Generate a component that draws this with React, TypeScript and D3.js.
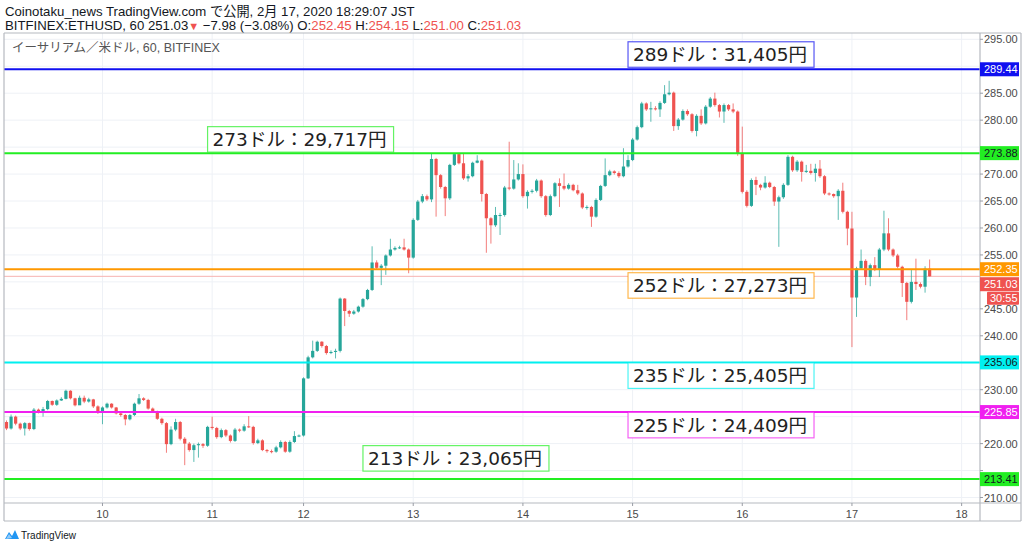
import * as d3 from 'd3';

// ETH/USD hourly candles, Bitfinex, Feb 9 - Feb 17 2020 (JST). Each bar opens at the previous close.
const firstOpen = 224.0;
const closes = [
  222.8, 225.0, 223.7, 222.8, 223.8, 222.7, 226.3, 226.0, 226.4, 227.9,
  227.2, 228.0, 228.3, 229.8, 228.4, 227.1, 228.5, 227.8, 228.2, 226.9,
  225.7, 226.7, 227.4, 226.7, 225.6, 225.3, 224.5, 225.3, 227.4, 228.4,
  228.1, 226.5, 226.0, 224.6, 223.8, 219.9, 222.6, 224.0, 220.9, 220.0,
  218.8, 219.7, 219.9, 219.6, 223.1, 222.9, 221.2, 222.5, 221.5, 220.5,
  222.6, 222.4, 223.2, 223.1, 220.1, 220.6, 218.8, 218.6, 218.5, 219.3,
  220.3, 218.5, 220.3, 221.4, 221.5, 232.1, 236.0, 237.2, 238.9, 238.1,
  236.8, 237.0, 237.2, 246.9, 244.6, 244.1, 244.5, 245.4, 246.8, 248.5,
  253.6, 252.6, 253.0, 254.9, 256.0, 256.3, 256.4, 256.0, 254.5, 261.5,
  264.9, 265.9, 265.3, 272.8, 269.8, 267.6, 265.5, 271.7, 273.7, 272.0,
  269.2, 269.6, 272.1, 272.5, 266.3, 261.8, 260.5, 262.4, 262.4, 267.5,
  267.3, 269.0, 270.0, 265.9, 266.7, 266.9, 268.8, 265.9, 262.4, 265.9,
  268.3, 267.8, 267.3, 268.0, 267.0, 266.4, 263.8, 263.9, 262.1, 265.2,
  267.8, 269.8, 270.5, 270.2, 269.6, 271.4, 272.6, 276.4, 278.7, 283.1,
  282.0, 282.2, 282.0, 283.2, 284.8, 285.1, 278.9, 280.1, 281.7, 281.1,
  278.0, 280.8, 279.4, 282.5, 284.0, 282.8, 281.6, 282.8, 282.0, 281.6,
  273.8, 266.7, 264.1, 268.9, 268.0, 267.5, 268.4, 267.6, 264.9, 265.7,
  268.0, 273.2, 270.7, 272.3, 270.4, 270.6, 270.2, 271.0, 269.6, 266.4,
  266.3, 265.9, 266.9, 263.0, 259.9, 247.1, 252.5, 253.9, 250.9, 253.1,
  252.3, 256.0, 259.0, 256.0, 254.9, 252.8, 249.8, 246.3, 250.0, 249.6,
  249.1, 252.45, 251.03,
];
const highs = [
  224.3, 225.4, 225.2, 223.9, 224.0, 223.9, 226.6, 226.5, 226.8, 228.1,
  228.0, 228.2, 228.6, 230.0, 229.9, 228.5, 228.9, 228.9, 228.5, 228.3,
  227.1, 226.9, 227.6, 227.5, 226.8, 225.8, 225.5, 225.5, 227.6, 229.2,
  228.6, 228.3, 226.7, 226.1, 224.8, 224.0, 223.2, 224.6, 224.2, 221.2,
  220.3, 220.0, 220.2, 220.1, 223.3, 225.0, 223.1, 222.8, 222.7, 221.7,
  222.9, 222.8, 223.6, 225.1, 223.3, 220.9, 220.8, 219.0, 218.9, 219.6,
  220.6, 220.5, 220.6, 222.3, 221.7, 232.3, 236.3, 239.1, 239.1, 239.0,
  238.3, 237.3, 237.6, 247.1, 247.0, 244.8, 244.8, 245.6, 247.0, 248.7,
  256.6, 254.0, 253.3, 255.1, 258.0, 256.6, 256.7, 258.0, 256.2, 261.8,
  265.2, 266.3, 266.2, 273.8, 273.0, 270.0, 267.8, 271.9, 273.9, 273.9,
  273.8, 270.0, 272.3, 273.5, 272.7, 266.5, 262.0, 263.9, 262.8, 267.8,
  276.0, 272.6, 272.0, 271.8, 267.0, 267.2, 269.1, 269.0, 266.1, 266.2,
  268.5, 269.2, 270.1, 268.3, 268.2, 268.0, 266.6, 264.2, 264.1, 265.5,
  268.0, 272.9, 270.8, 270.7, 270.5, 274.8, 273.5, 276.7, 279.0, 283.4,
  283.3, 283.4, 282.6, 283.5, 286.5, 287.3, 285.3, 280.4, 282.0, 282.0,
  281.3, 281.1, 282.0, 282.8, 284.3, 285.1, 283.0, 283.1, 283.0, 283.1,
  281.8, 278.8, 267.0, 269.2, 269.5, 268.2, 269.6, 268.6, 267.8, 266.0,
  268.3, 273.5, 273.4, 272.6, 272.5, 271.7, 271.9, 271.9, 272.6, 269.8,
  266.6, 266.4, 267.2, 268.4, 263.2, 263.0, 252.8, 256.0, 254.2, 253.4,
  254.6, 256.3, 263.2, 261.8, 256.2, 255.2, 253.0, 250.0, 252.2, 254.3,
  249.9, 252.9, 254.15,
];
const lows = [
  222.5, 222.6, 223.4, 222.5, 221.5, 222.4, 222.5, 225.6, 225.0, 226.2,
  227.0, 227.0, 227.9, 228.2, 228.2, 226.9, 227.2, 227.5, 227.6, 226.6,
  225.5, 223.6, 226.5, 226.5, 225.4, 225.0, 223.4, 224.3, 225.1, 227.2,
  227.9, 226.3, 225.8, 224.4, 223.5, 218.3, 219.7, 222.3, 220.6, 216.0,
  218.5, 216.6, 217.4, 219.2, 219.4, 222.6, 220.9, 221.0, 221.2, 220.2,
  220.3, 222.1, 222.2, 222.9, 219.8, 219.9, 218.6, 218.3, 218.2, 218.3,
  219.1, 218.3, 218.3, 220.1, 221.2, 221.3, 232.0, 235.8, 237.0, 237.8,
  236.5, 236.6, 235.8, 236.9, 241.8, 243.5, 243.9, 244.3, 245.2, 246.6,
  248.3, 252.3, 249.4, 251.3, 254.7, 255.8, 256.1, 255.8, 251.6, 254.3,
  261.3, 264.6, 265.0, 264.8, 262.1, 267.3, 262.2, 265.2, 271.5, 271.8,
  268.9, 268.6, 269.4, 272.0, 264.9, 255.4, 257.1, 260.2, 258.7, 262.1,
  267.0, 267.1, 268.8, 265.6, 263.6, 266.4, 266.6, 265.6, 262.1, 262.2,
  265.7, 263.9, 267.0, 267.1, 266.8, 266.1, 263.5, 263.4, 260.2, 261.9,
  265.0, 267.6, 269.6, 269.9, 269.3, 269.4, 271.2, 272.4, 276.2, 278.5,
  281.7, 279.7, 281.8, 280.6, 283.0, 284.6, 278.0, 278.2, 279.9, 280.8,
  277.7, 277.0, 279.1, 279.2, 282.3, 282.5, 280.5, 279.5, 281.7, 281.3,
  273.4, 266.4, 263.8, 263.9, 266.1, 267.0, 267.3, 267.4, 264.1, 256.5,
  265.4, 267.8, 270.4, 270.4, 268.6, 270.2, 269.9, 268.6, 269.3, 266.1,
  266.0, 265.6, 261.5, 262.7, 256.8, 237.9, 243.5, 252.3, 249.4, 249.2,
  252.0, 250.9, 255.7, 255.7, 254.6, 252.5, 247.2, 242.9, 246.0, 248.5,
  248.8, 248.0, 251.0,
];

// day boundaries (bar index of 00:00 JST) and their labels
const dayTickBars = [21, 45, 65, 89, 113, 137, 161, 185, 209];
const dayTickLabels = ['10', '11', '12', '13', '14', '15', '16', '17', '18'];

// horizontal levels drawn by the author
const levelPrices = [289.44, 273.88, 252.35, 235.06, 225.85, 213.41];
const levelNotes = ['289ドル：31,405円', '273ドル：29,717円', '252ドル：27,273円', '235ドル：25,405円', '225ドル：24,409円', '213ドル：23,065円'];

const lastPrice = 251.03;
const countdown = '30:55';

// styling / layout for the level lines and their notes
const levelStyle = [
  { color: '#1010f0', text: '#ffffff', noteBar: 136, dy: -27.5 },
  { color: '#22ee22', text: '#131722', noteBar: 44, dy: -26.5 },
  { color: '#ff9800', text: '#ffffff', noteBar: 136, dy: 3.5 },
  { color: '#00f0f0', text: '#131722', noteBar: 136, dy: 0.5 },
  { color: '#f020f0', text: '#ffffff', noteBar: 136, dy: 0.3 },
  { color: '#22ee22', text: '#131722', noteBar: 78, dy: -33.5 },
];

const UP = '#26a69a';
const DOWN = '#ef5350';
const FONT = '"Liberation Sans", "Noto Sans CJK JP", sans-serif';
const NOTE_FONT = '"DejaVu Sans", "Noto Sans CJK JP", sans-serif';

const plotLeft = 4;
const plotTop = 33;
const axisX = 980;
const axisY = 503;
const frameRight = 1021;
const frameBottom = 521;

export default function App() {
  const x = d3.scaleLinear().domain([0, 202]).range([6.5, 6.5 + 4.57 * 202]);
  const y = d3.scaleLinear().domain([210, 295]).range([497.5, 39.3]);
  const priceTicks = y.ticks(17);
  const candles = closes.map((c, i) => ({
    i,
    o: i === 0 ? firstOpen : closes[i - 1],
    h: highs[i],
    l: lows[i],
    c,
  }));
  const bodyW = 3.2;

  // last-price badge is pushed below the orange badge, like TradingView does
  const lastY = Math.max(y(lastPrice), y(levelPrices[2]) + 15);
  const badgeYs = [...levelPrices.map((p) => y(p)), lastY, lastY + 13.5];
  const freeTicks = priceTicks.filter((p) => badgeYs.every((b) => Math.abs(b - y(p)) > 11));

  return (
    <div style={{ position: 'absolute', left: 0, top: 0 }}>
      <svg width={1024} height={552} style={{ display: 'block', background: '#fff' }} fontFamily={FONT}>
        <defs>
          <clipPath id="plot">
            <rect x={plotLeft} y={plotTop} width={axisX - plotLeft} height={axisY - plotTop} />
          </clipPath>
        </defs>

        {/* header */}
        <text x={5} y={16} fontSize={13.2} fill="#131722">
          Coinotaku_news TradingView.com で公開, 2月 17, 2020 18:29:07 JST
        </text>
        <text x={5} y={29.5} fontSize={13.2} fill="#131722">
          BITFINEX:ETHUSD, 60 251.03
          <tspan fill={DOWN} fontSize={11}>▼</tspan>
          <tspan> −7.98 (−3.08%) O:</tspan>
          <tspan fill={DOWN}>252.45</tspan>
          <tspan> H:</tspan>
          <tspan fill={DOWN}>254.15</tspan>
          <tspan> L:</tspan>
          <tspan fill={DOWN}>251.00</tspan>
          <tspan> C:</tspan>
          <tspan fill={DOWN}>251.03</tspan>
        </text>

        {/* grid */}
        <g stroke="#eef1f6" strokeWidth={1}>
          {dayTickBars.map((b) => (
            <line key={b} x1={x(b)} x2={x(b)} y1={plotTop} y2={axisY} />
          ))}
          {priceTicks.map((p) => (
            <line key={p} x1={plotLeft} x2={axisX} y1={y(p)} y2={y(p)} />
          ))}
        </g>

        <text x={12} y={52} fontSize={12.5} fill="#555">
          イーサリアム／米ドル, 60, BITFINEX
        </text>

        {/* last price line */}
        <line x1={plotLeft} x2={axisX} y1={y(lastPrice)} y2={y(lastPrice)} stroke="#f7b2b0" strokeWidth={1} />

        {/* candles */}
        <g clipPath="url(#plot)">
          {candles.map((d) => {
            const col = d.c >= d.o ? UP : DOWN;
            const top = y(Math.max(d.o, d.c));
            const bot = y(Math.min(d.o, d.c));
            return (
              <g key={d.i}>
                <line x1={x(d.i)} x2={x(d.i)} y1={y(d.h)} y2={y(d.l)} stroke={col} strokeWidth={1} strokeOpacity={0.75} />
                <rect x={x(d.i) - bodyW / 2} y={top} width={bodyW} height={Math.max(1, bot - top)} fill={col} />
              </g>
            );
          })}
        </g>

        {/* level lines */}
        {levelPrices.map((p, k) => (
          <line key={p} x1={plotLeft} x2={axisX} y1={y(p)} y2={y(p)} stroke={levelStyle[k].color} strokeWidth={2} />
        ))}

        {/* level notes */}
        {levelPrices.map((p, k) => {
          const s = levelStyle[k];
          const bx = x(s.noteBar);
          const by = y(p) + s.dy;
          return (
            <g key={'n' + p}>
              <rect x={bx} y={by} width={186} height={25.5} fill="#fff" stroke={s.color} strokeOpacity={0.7} strokeWidth={1.2} />
              <text x={bx + 5} y={by + 19.5} fontSize={18.5} fontFamily={NOTE_FONT} fill="#222">
                {levelNotes[k]}
              </text>
            </g>
          );
        })}

        {/* frame */}
        <g fill="none" stroke="#b6b9c0" strokeWidth={1.2}>
          <line x1={plotLeft} x2={frameRight} y1={plotTop} y2={plotTop} />
          <line x1={plotLeft} x2={plotLeft} y1={plotTop} y2={frameBottom} />
          <line x1={frameRight} x2={frameRight} y1={plotTop} y2={frameBottom} />
          <line x1={plotLeft} x2={frameRight} y1={frameBottom} y2={frameBottom} />
          <line x1={axisX} x2={axisX} y1={plotTop} y2={frameBottom} />
          <line x1={plotLeft} x2={frameRight} y1={axisY} y2={axisY} />
        </g>

        {/* price axis */}
        <g fontSize={11} fill="#4a4a4a">
          {priceTicks.map((p) => (
            <line key={'t' + p} x1={axisX} x2={axisX + 3} y1={y(p)} y2={y(p)} stroke="#9a9da5" />
          ))}
          {freeTicks.map((p) => (
            <text key={p} x={axisX + 4} y={y(p) + 4}>
              {p.toFixed(2)}
            </text>
          ))}
        </g>

        {/* time axis */}
        <g fontSize={11} fill="#4a4a4a" textAnchor="middle">
          {dayTickBars.map((b, k) => (
            <g key={b}>
              <line x1={x(b)} x2={x(b)} y1={axisY} y2={axisY + 3} stroke="#9a9da5" />
              <text x={x(b)} y={518}>
                {dayTickLabels[k]}
              </text>
            </g>
          ))}
        </g>

        {/* price badges */}
        {levelPrices.map((p, k) => (
          <g key={'b' + p}>
            <rect x={axisX} y={y(p) - 7} width={39} height={14} fill={levelStyle[k].color} />
            <text x={axisX + 4} y={y(p) + 4} fontSize={11} fill={levelStyle[k].text}>
              {p.toFixed(2)}
            </text>
          </g>
        ))}
        <rect x={axisX} y={lastY - 7} width={39} height={14} fill={DOWN} />
        <text x={axisX + 4} y={lastY + 4} fontSize={11} fill="#fff">
          {lastPrice.toFixed(2)}
        </text>
        <rect x={axisX + 7} y={lastY + 7.5} width={32} height={13} rx={1} fill={DOWN} />
        <text x={axisX + 10} y={lastY + 18} fontSize={11} fill="#fff">
          {countdown}
        </text>

        {/* TradingView logo */}
        <g transform="translate(5,529)">
          <path d="M0 10 L4 3 L7 7 L10 1 L14 10 Z" fill="#2196f3" />
          <path d="M1 10 L4 5 L7 9 Z" fill="#90caf9" />
        </g>
        <text x={21} y={539} fontSize={10} fill="#131722">
          TradingView
        </text>
      </svg>
    </div>
  );
}
